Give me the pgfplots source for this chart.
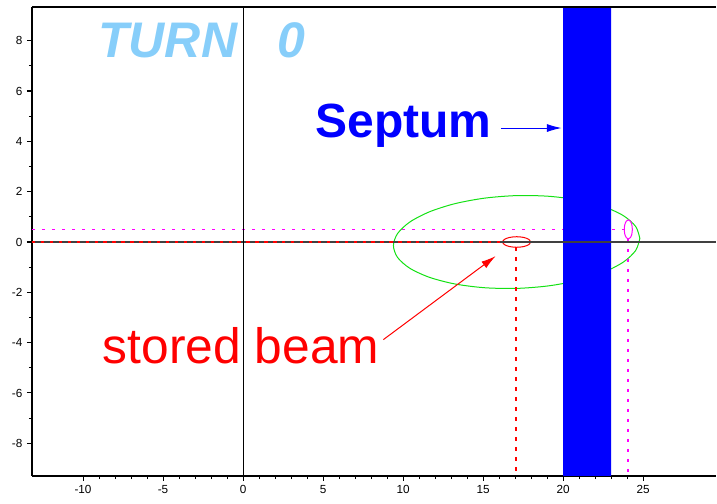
\documentclass[border=0pt]{standalone}
\usepackage{pgfplots}
\pgfplotsset{compat=1.18}
\usepackage{fontspec}
\setmainfont{Liberation Sans}
\usetikzlibrary{arrows.meta}
\definecolor{turnblue}{RGB}{135,206,250}
\definecolor{ellgreen}{RGB}{20,225,20}
\definecolor{mag}{RGB}{255,0,255}
\begin{document}
\begin{tikzpicture}
\begin{axis}[
  at={(0,0)}, anchor=south west,
  scale only axis, width=513pt, height=351.75pt,
  xmin=-13.19, xmax=29.56, ymin=-9.30, ymax=9.34,
  axis x line*=bottom, axis y line*=left,
  axis line style={line width=0.8pt},
  tick align=outside,
  xtick={-10,-5,0,5,10,15,20,25}, minor x tick num=4,
  ytick={-8,-6,-4,-2,0,2,4,6,8}, minor y tick num=1,
  major tick length=3.75pt, minor tick length=2.3pt,
  tick style={line width=0.8pt, black},
  tick label style={font=\fontsize{8.8}{9.5}\selectfont},
  /pgf/number format/assume math mode=true,
  clip=true,
]
% green ellipse
\addplot[ellgreen, line width=0.75pt, smooth] coordinates {
(24.80,0.144) (24.54,0.616) (23.77,1.047) (22.54,1.406) (20.95,1.669) (19.09,1.818)
(17.10,1.844) (15.11,1.744) (13.25,1.525) (11.66,1.202) (10.43,0.797) (9.66,0.338)
(9.40,-0.144) (9.66,-0.616) (10.43,-1.047) (11.66,-1.406) (13.25,-1.669) (15.11,-1.818)
(17.10,-1.844) (19.09,-1.744) (20.95,-1.525) (22.54,-1.202) (23.77,-0.797) (24.54,-0.338)
(24.80,0.144)};
% red ellipse (stored beam)
\addplot[red, line width=0.75pt, smooth] coordinates {
(17.98,0) (17.86,0.105) (17.54,0.182) (17.10,0.21) (16.66,0.182) (16.34,0.105)
(16.22,0) (16.34,-0.105) (16.66,-0.182) (17.10,-0.21) (17.54,-0.182) (17.86,-0.105)
(17.98,0)};
% magenta ellipse
\addplot[mag, line width=0.75pt, smooth] coordinates {
(24.33,0.5) (24.30,0.69) (24.205,0.829) (24.08,0.88) (23.955,0.829) (23.86,0.69)
(23.83,0.5) (23.86,0.31) (23.955,0.171) (24.08,0.12) (24.205,0.171) (24.30,0.31)
(24.33,0.5)};
% dashed guide lines
\addplot[mag, line width=0.8pt, dash pattern=on 2.5pt off 5pt] coordinates {(-13.19,0.5) (23.83,0.5)};
\addplot[mag, line width=1pt, dash pattern=on 2.5pt off 5pt] coordinates {(24.05,0.12) (24.05,-9.30)};
\addplot[red, line width=1pt, dash pattern=on 2.5pt off 5pt] coordinates {(17.05,-0.21) (17.05,-9.30)};
% septum band
\addplot[fill=blue, draw=none] coordinates {(20,-10) (23,-10) (23,10) (20,10) (20,-10)};
% axes through origin
\addplot[black!75, line width=1.1pt] coordinates {(-13.19,0) (29.56,0)};
\addplot[black, line width=0.6pt] coordinates {(0,-9.30) (0,9.34)};
\addplot[red, line width=1pt, dash pattern=on 2.5pt off 4.2pt] coordinates {(-13.19,0) (16.22,0)};
% top frame line
\draw[line width=0.8pt] (rel axis cs:0,1) -- (rel axis cs:1,1);
% texts
\node[anchor=base west, inner sep=0pt, text=turnblue, font=\fontsize{37.5}{40}\selectfont\bfseries\itshape] at (axis cs:-9.06,7.33) {TURN};
\node[anchor=base west, inner sep=0pt, text=turnblue, font=\fontsize{37.5}{40}\selectfont\bfseries\itshape] at (axis cs:2.13,7.33) {0};
\node[anchor=base west, inner sep=0pt, text=blue, font=\fontsize{36}{40}\selectfont\bfseries] at (axis cs:4.5,4.17) {Septum};
\node[anchor=base west, inner sep=0pt, text=red, font=\fontsize{37.3}{40}\selectfont] at (axis cs:-8.77,-4.83) {stored beam};
% arrows
\draw[blue, line width=0.75pt, -{Latex[length=11pt,width=6pt]}] (axis cs:16.11,4.53) -- (axis cs:19.91,4.53);
\draw[red, line width=0.75pt, -{Latex[length=11pt,width=6pt]}] (axis cs:8.77,-3.88) -- (axis cs:15.79,-0.56);
\end{axis}
\pgfresetboundingbox
\path (-24pt,-20.25pt) rectangle (513.75pt,357pt);
\end{tikzpicture}
\end{document}
